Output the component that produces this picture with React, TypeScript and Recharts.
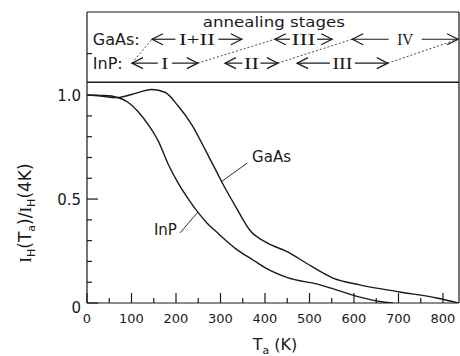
import { LineChart, Line, XAxis, YAxis, ReferenceLine, ReferenceDot } from 'recharts';

// annealing temperature (K) and normalised intensity I_H(Ta)/I_H(4K)
const gaasTemp = [0, 30, 67, 100, 146, 175, 204, 236, 265, 288, 306, 335, 366, 404, 452, 494, 553, 613, 703, 786, 834];
const gaasRatio = [1.0, 0.996, 0.988, 1.003, 1.027, 1.014, 0.95, 0.856, 0.74, 0.645, 0.57, 0.46, 0.35, 0.29, 0.245, 0.19, 0.12, 0.087, 0.053, 0.024, 0.0];
const inpTemp = [0, 40, 67, 92, 115, 137, 160, 182, 204, 231, 249, 270, 292, 337, 373, 404, 449, 524, 562, 613, 665, 688];
const inpRatio = [1.0, 0.998, 0.99, 0.966, 0.92, 0.86, 0.78, 0.67, 0.58, 0.49, 0.437, 0.384, 0.34, 0.257, 0.207, 0.165, 0.123, 0.087, 0.062, 0.028, 0.005, 0.0];

// annealing stages (temperature ranges, K)
const gaasStages = ['I+II', 'III', 'IV'];
const gaasStageFrom = [146, 422, 596];
const gaasStageTo = [348, 551, 834];
const inpStages = ['I', 'II', 'III'];
const inpStageFrom = [101, 310, 472];
const inpStageTo = [249, 429, 676];
// dashed links between InP and GaAs stage boundaries: [InP, GaAs]
const stageLinks = [[101, 146], [249, 422], [429, 596], [676, 834]];

const xTicks = [0, 50, 100, 150, 200, 250, 300, 350, 400, 450, 500, 550, 600, 650, 700, 750, 800];
const yTicks = [0, 0.1, 0.2, 0.3, 0.4, 0.5, 0.6, 0.7, 0.8, 0.9, 1.0, 1.2];
const yMajor = [0, 0.5, 1.0];

const gaasData = gaasTemp.map((t, i) => ({ t, v: gaasRatio[i] }));
const inpData = inpTemp.map((t, i) => ({ t, v: inpRatio[i] }));

const ink = '#1a1a1a';
const sans = 'DejaVu Sans';
const serif = 'Liberation Serif';
const gaasRow = 1.269;
const inpRow = 1.154;

// label gap / text width for each stage arrow, same order as the stage arrays
const gaasGap = [43, 27, 33];
const gaasTextW = [36, 24, 16];
const inpGap = [14, 18, 25];
const inpTextW = [7, 15, 20];

const BottomTick = (p: any) => {
  const v = p.payload.value;
  const major = v % 100 === 0;
  return (
    <g>
      <line x1={p.x} x2={p.x} y1={p.y} y2={p.y - (major ? 10 : 5)} stroke={ink} strokeWidth={1.2} />
      {major && (
        <text x={p.x} y={p.y + 20} textAnchor="middle" fontSize={13} fontFamily={sans} fill={ink}>
          {v}
        </text>
      )}
    </g>
  );
};

const TopTick = (p: any) => {
  const major = p.payload.value % 100 === 0;
  return <line x1={p.x} x2={p.x} y1={p.y} y2={p.y + (major ? 9 : 5)} stroke={ink} strokeWidth={1.2} />;
};

const LeftTick = (p: any) => {
  const v = p.payload.value;
  const major = yMajor.includes(v);
  return (
    <g>
      <line x1={p.x} x2={p.x + (major ? 11 : 5)} y1={p.y} y2={p.y} stroke={ink} strokeWidth={1.2} />
      {major && (
        <text x={p.x - 6} y={p.y + (v === 0 ? 10 : 6)} textAnchor="end" fontSize={15} fontFamily={sans} fill={ink}>
          {v === 0 ? '0' : v.toFixed(1)}
        </text>
      )}
    </g>
  );
};

const RightTick = (p: any) => {
  const v = p.payload.value;
  if (v === 0) return <g />;
  return <line x1={p.x} x2={p.x - 7} y1={p.y} y2={p.y} stroke={ink} strokeWidth={1.2} />;
};

const YLabel = (p: any) => {
  const vb = p.viewBox;
  const cx = vb.x + 25;
  const cy = 213;
  return (
    <text transform={`rotate(-90 ${cx} ${cy})`} x={cx} y={cy + 6} textAnchor="middle" fontSize={17} fontFamily={sans} fill={ink}>
      <tspan fontFamily={serif}>I</tspan>
      <tspan fontSize={11} dy={4}>H</tspan>
      <tspan dy={-4}>(T</tspan>
      <tspan fontSize={11} dy={4}>a</tspan>
      <tspan dy={-4}>)/</tspan>
      <tspan fontFamily={serif}>I</tspan>
      <tspan fontSize={11} dy={4}>H</tspan>
      <tspan dy={-4}>(4K)</tspan>
    </text>
  );
};

const XLabel = (p: any) => {
  const vb = p.viewBox;
  const cx = vb.x + vb.width / 2 + 2;
  return (
    <text x={cx} y={350} textAnchor="middle" fontSize={16} fontFamily={sans} fill={ink}>
      T<tspan fontSize={11} dy={4}>a</tspan>
      <tspan dy={-4}> (K)</tspan>
    </text>
  );
};

const stageArrow = (label: string, gap: number, textW: number) => (p: any) => {
  const { x1, y1, x2 } = p;
  const mid = (x1 + x2) / 2;
  const h = 11;
  const w = 5.5;
  return (
    <g>
      <g stroke={ink} strokeWidth={1.2} fill="none">
        <line x1={x1} y1={y1} x2={mid - gap / 2} y2={y1} />
        <line x1={mid + gap / 2} y1={y1} x2={x2} y2={y1} />
        <polyline points={`${x1 + h},${y1 - w} ${x1},${y1} ${x1 + h},${y1 + w}`} />
        <polyline points={`${x2 - h},${y1 - w} ${x2},${y1} ${x2 - h},${y1 + w}`} />
      </g>
      <text
        x={mid}
        y={y1 + 6}
        textAnchor="middle"
        fontSize={17}
        fontFamily={serif}
        fill={ink}
        textLength={textW}
        lengthAdjust="spacingAndGlyphs"
      >
        {label}
      </text>
    </g>
  );
};

const textShape = (txt: string, anchor: 'start' | 'middle' | 'end', size: number, dy: number, len?: number) => (p: any) => (
  <text
    x={p.cx}
    y={p.cy + dy}
    textAnchor={anchor}
    fontSize={size}
    fontFamily={sans}
    fill={ink}
    textLength={len}
    lengthAdjust={len ? 'spacingAndGlyphs' : undefined}
  >
    {txt}
  </text>
);

export default function App() {
  return (
    <div style={{ position: 'absolute', left: 0, top: 0, background: '#fff' }}>
      <LineChart width={460} height={356} margin={{ top: 0, right: 0, bottom: 0, left: 0 }}>
        <XAxis
          dataKey="t"
          type="number"
          domain={[0, 836]}
          ticks={xTicks}
          interval={0}
          height={53}
          tickSize={0}
          tickMargin={0}
          tick={(p: any) => <BottomTick {...p} />}
          axisLine={{ stroke: ink, strokeWidth: 1.2 }}
          allowDataOverflow
          label={<XLabel />}
        />
        <XAxis
          xAxisId="top"
          orientation="top"
          type="number"
          domain={[0, 836]}
          ticks={xTicks}
          interval={0}
          height={12}
          tickSize={0}
          tickMargin={0}
          tick={(p: any) => <TopTick {...p} />}
          axisLine={{ stroke: ink, strokeWidth: 1.2 }}
        />
        <YAxis
          type="number"
          domain={[0, 1.4]}
          ticks={yTicks}
          interval={0}
          width={87}
          tickSize={0}
          tickMargin={0}
          tick={(p: any) => <LeftTick {...p} />}
          axisLine={{ stroke: ink, strokeWidth: 1.2 }}
          allowDataOverflow
          label={<YLabel />}
        />
        <YAxis
          yAxisId="right"
          orientation="right"
          type="number"
          domain={[0, 1.4]}
          ticks={[0, 0.5, 1.0]}
          interval={0}
          width={1}
          tickSize={0}
          tickMargin={0}
          tick={(p: any) => <RightTick {...p} />}
          axisLine={{ stroke: ink, strokeWidth: 1.2 }}
        />

        <ReferenceLine y={1.0625} stroke={ink} strokeWidth={1.5} />

        <Line data={gaasData} dataKey="v" type="monotone" stroke={ink} strokeWidth={1.4} dot={false} isAnimationActive={false} />
        <Line data={inpData} dataKey="v" type="monotone" stroke={ink} strokeWidth={1.4} dot={false} isAnimationActive={false} />

        {/* curve labels with leader lines */}
        <ReferenceLine segment={[{ x: 303, y: 0.585 }, { x: 360, y: 0.673 }]} stroke={ink} strokeWidth={0.9} />
        <ReferenceDot x={371} y={0.702} r={0} shape={textShape('GaAs', 'start', 15, 5)} />
        <ReferenceLine segment={[{ x: 209, y: 0.337 }, { x: 249, y: 0.437 }]} stroke={ink} strokeWidth={0.9} />
        <ReferenceDot x={202} y={0.351} r={0} shape={textShape('InP', 'end', 15, 5)} />

        {/* annealing stage panel */}
        <ReferenceDot x={420} y={1.346} r={0} shape={textShape('annealing  stages', 'middle', 14, 4, 142)} />
        <ReferenceDot x={13} y={gaasRow} r={0} shape={textShape('GaAs:', 'start', 16, 6)} />
        <ReferenceDot x={13} y={inpRow} r={0} shape={textShape('InP:', 'start', 16, 6)} />
        {gaasStages.map((s, i) => (
          <ReferenceLine
            key={'g' + s}
            segment={[{ x: gaasStageFrom[i], y: gaasRow }, { x: gaasStageTo[i], y: gaasRow }]}
            shape={stageArrow(s, gaasGap[i], gaasTextW[i])}
          />
        ))}
        {inpStages.map((s, i) => (
          <ReferenceLine
            key={'i' + s}
            segment={[{ x: inpStageFrom[i], y: inpRow }, { x: inpStageTo[i], y: inpRow }]}
            shape={stageArrow(s, inpGap[i], inpTextW[i])}
          />
        ))}
        {stageLinks.map(([a, b]) => (
          <ReferenceLine
            key={'l' + a}
            segment={[{ x: a, y: inpRow }, { x: b, y: gaasRow }]}
            stroke={ink}
            strokeWidth={0.8}
            strokeDasharray="2 2"
          />
        ))}
      </LineChart>
    </div>
  );
}
